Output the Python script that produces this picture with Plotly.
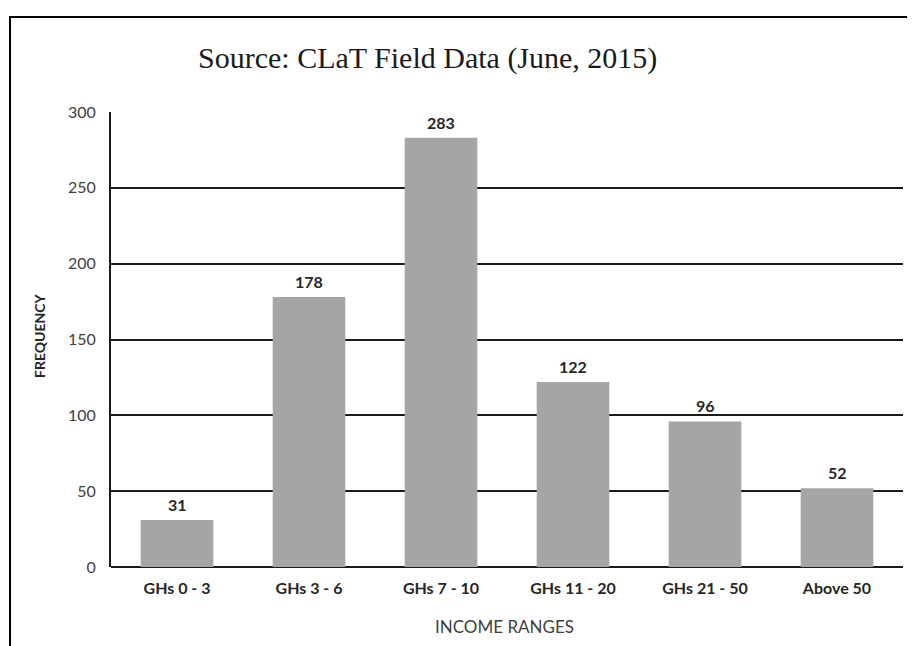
import plotly.graph_objects as go

categories = ["GHs 0 - 3", "GHs 3 - 6", "GHs 7 - 10", "GHs 11 - 20", "GHs 21 - 50", "Above 50"]
frequency = [31, 178, 283, 122, 96, 52]
y_ticks = [0, 50, 100, 150, 200, 250, 300]

# page is shown with an 8px body margin, so the figure is sized to fit the window
OFF = 8
W, H = 915 - OFF, 646 - OFF
L, R, T, B = 111 - OFF, 12, 112 - OFF, 646 - 567
pw, ph = W - L - R, H - T - B

def px(x):
    return (x - OFF - L) / pw

def py(y):
    return (H - B - (y - OFF)) / ph

SANS = "Lato, Open Sans, sans-serif"

fig = go.Figure()
fig.add_trace(go.Bar(
    x=categories, y=frequency,
    marker=dict(color="#A5A5A5", line=dict(width=0)),
    hoverinfo="x+y",
))

annotations = []
for c, v in zip(categories, frequency):
    annotations.append(dict(
        x=c, y=v, xref="x", yref="y", text=f"<b>{v}</b>", showarrow=False,
        yanchor="bottom", yshift=4,
        font=dict(family=SANS, size=16, color="#262626"),
    ))

annotations += [
    dict(x=px(427), y=py(58), xref="paper", yref="paper",
         text="Source: CLaT Field Data (June, 2015)", showarrow=False,
         xanchor="center", yanchor="middle",
         font=dict(family="Liberation Serif, DejaVu Serif, serif", size=30, color="#1a1a1a")),
    dict(x=px(39), y=py(336), xref="paper", yref="paper", text="<b>FREQUENCY</b>",
         showarrow=False, textangle=-90, xanchor="center", yanchor="middle",
         font=dict(family=SANS, size=14, color="#262626")),
    dict(x=px(504), y=py(626), xref="paper", yref="paper", text="INCOME RANGES",
         showarrow=False, xanchor="center", yanchor="middle",
         font=dict(family=SANS, size=17, color="#404040")),
]

shapes = [
    dict(type="line", xref="paper", yref="paper", x0=px(10), x1=px(10),
         y0=py(17), y1=py(660), line=dict(color="#000000", width=2)),
    dict(type="line", xref="paper", yref="paper", x0=px(9), x1=px(930),
         y0=py(17), y1=py(17), line=dict(color="#000000", width=2)),
]

fig.update_layout(
    width=W, height=H,
    margin=dict(l=L, r=R, t=T, b=B),
    paper_bgcolor="white", plot_bgcolor="white",
    bargap=0.45,
    showlegend=False,
    annotations=annotations,
    shapes=shapes,
    xaxis=dict(
        showgrid=False, showline=False, ticks="", ticklabelstandoff=10,
        tickfont=dict(family=SANS, size=16, color="#262626", weight="bold"),
    ),
    yaxis=dict(
        range=[0, 300], tickvals=y_ticks, ticks="",
        showgrid=True, gridcolor="#1a1a1a", gridwidth=1.5,
        showline=True, linecolor="#1a1a1a", linewidth=2,
        zeroline=True, zerolinecolor="#1a1a1a", zerolinewidth=2,
        ticklabelstandoff=10,
        tickfont=dict(family=SANS, size=16, color="#404040"),
    ),
)

fig.write_html("out.html")
